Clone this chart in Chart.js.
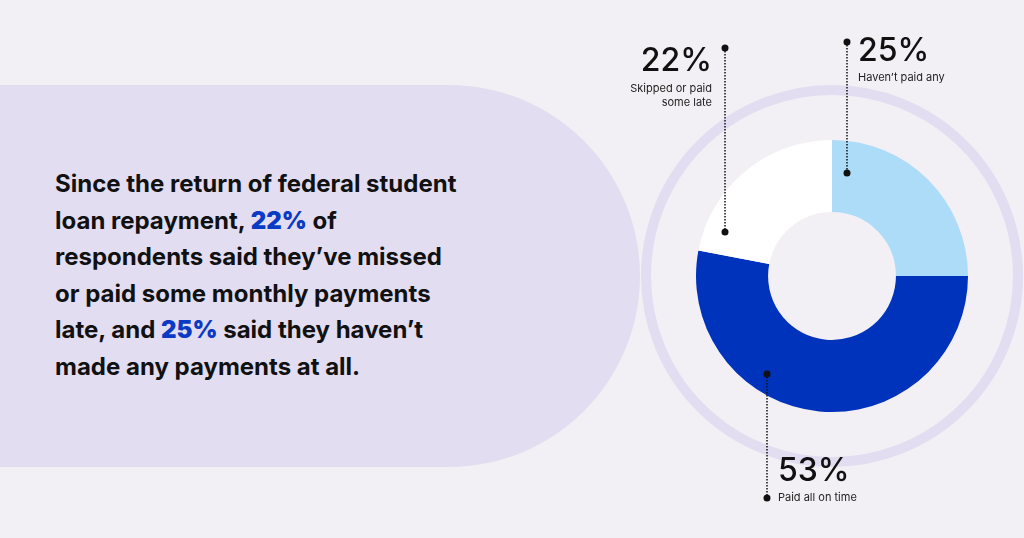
<!DOCTYPE html>
<html><head><meta charset="utf-8">
<script src="https://cdn.jsdelivr.net/npm/chart.js@4"></script>
<style>
html,body{margin:0;padding:0;width:1024px;height:538px;overflow:hidden;background:#f2f0f4;font-family:Inter,"Noto Sans",sans-serif;}
#pill{position:absolute;left:-200px;top:85px;width:840px;height:382px;border-radius:191px;background:#e2ddf1;}
#ring{position:absolute;left:641px;top:85px;width:362px;height:362px;border-radius:50%;border:10px solid #e2ddf1;}
#head{position:absolute;left:55px;top:166px;width:560px;white-space:nowrap;font-size:24px;font-weight:700;line-height:36.6px;color:#111;}
#head b{color:#0a3bc4;}
#wrap{position:absolute;left:696px;top:140px;width:272px;height:272px;}
.big{position:absolute;font-size:32px;font-weight:500;color:#111;line-height:32px;white-space:nowrap;}
.sm{position:absolute;font-size:11px;color:#222;line-height:14px;white-space:nowrap;}
svg{position:absolute;left:0;top:0;}
</style></head><body>
<div id="pill"></div><div id="ring"></div>
<div id="head">Since the return of federal student<br>loan repayment, <b>22%</b> of<br>respondents said they’ve missed<br>or paid some monthly payments<br>late, and <b>25%</b> said they haven’t<br>made any payments at all.</div>
<div id="wrap"><canvas id="c"></canvas></div>
<svg width="1024" height="538">
<g stroke="#111" stroke-width="1.5" stroke-dasharray="1.5 1.5">
<line x1="725" y1="48" x2="725" y2="232"/><line x1="847" y1="42" x2="847" y2="173"/><line x1="767" y1="374" x2="767" y2="498"/></g>
<g fill="#111"><circle cx="725" cy="48" r="3.5"/><circle cx="725" cy="232" r="3.5"/><circle cx="847" cy="42" r="3.5"/><circle cx="847" cy="173" r="3.5"/><circle cx="767" cy="374" r="3.5"/><circle cx="767" cy="498" r="3.5"/></g>
</svg>
<div class="big" style="right:312px;top:44px;text-align:right">22%</div>
<div class="sm" style="right:312px;top:81px;text-align:right">Skipped or paid<br>some late</div>
<div class="big" style="left:858px;top:34px">25%</div>
<div class="sm" style="left:858px;top:70px">Haven’t paid any</div>
<div class="big" style="left:778px;top:454px">53%</div>
<div class="sm" style="left:778px;top:490px">Paid all on time</div>
<script>
const categories=["Haven't paid any","Paid all on time","Skipped or paid some late"];
const values=[25,53,22];
const colors=["#addcf9","#0033bb","#ffffff"];
new Chart(document.getElementById('c'),{type:'doughnut',
data:{labels:categories,datasets:[{data:values,backgroundColor:colors,borderWidth:0}]},
options:{responsive:true,maintainAspectRatio:false,cutout:'47%',animation:false,
plugins:{legend:{display:false},tooltip:{enabled:false}}}});
</script></body></html>
